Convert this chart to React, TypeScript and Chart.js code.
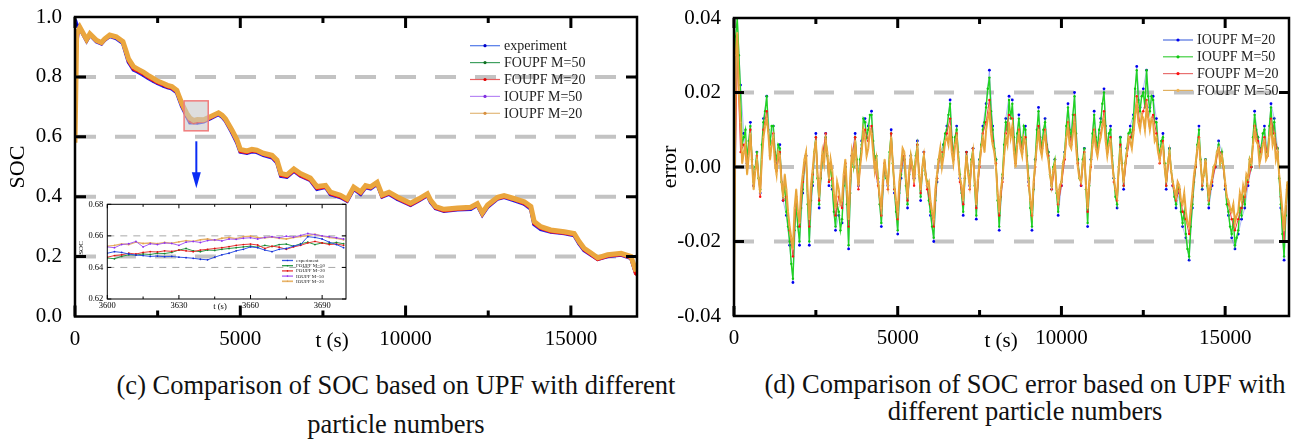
import React, { useEffect, useRef } from 'react';
import { Chart, registerables } from 'chart.js';
Chart.register(...registerables);

const SERIF = '"Liberation Serif", "Times New Roman", serif';

// ---------- (c) SOC chart ----------
const SOC_T = [
  0, 50, 150, 350, 450, 650, 800, 900, 1050, 1250,
  1450, 1550, 1620, 1770, 1900, 2070, 2200, 2370, 2500, 2680,
  2800, 2930, 3080, 3150, 3230, 3380, 3480, 3590, 3700, 3890,
  4090, 4340, 4450, 4550, 4750, 4900, 5000, 5200, 5350, 5500,
  5700, 5960, 6110, 6230, 6410, 6620, 6820, 7120, 7320, 7580,
  7730, 8030, 8230, 8430, 8640, 8790, 8940, 9140, 9290, 9500,
  9750, 10150, 10400, 10660, 10760, 10910, 11160, 11570, 11970, 12170,
  12320, 12480, 12780, 12980, 13280, 13590, 13790, 13890, 14090, 14390,
  14800, 15100, 15250, 15400, 15610, 15810, 16110, 16520, 16820, 16970,
];
const SOC_EXPERIMENT = [
  0.990, 0.975, 0.962, 0.921, 0.941, 0.918, 0.911, 0.924, 0.936, 0.929,
  0.913, 0.876, 0.850, 0.824, 0.817, 0.806, 0.797, 0.786, 0.779, 0.770,
  0.765, 0.761, 0.748, 0.727, 0.703, 0.669, 0.648, 0.648, 0.647, 0.651,
  0.661, 0.675, 0.667, 0.654, 0.614, 0.581, 0.550, 0.546, 0.551, 0.549,
  0.539, 0.531, 0.514, 0.469, 0.466, 0.486, 0.470, 0.455, 0.426, 0.432,
  0.408, 0.398, 0.386, 0.426, 0.409, 0.431, 0.427, 0.443, 0.400, 0.409,
  0.392, 0.372, 0.387, 0.405, 0.382, 0.361, 0.352, 0.357, 0.359, 0.372,
  0.340, 0.366, 0.393, 0.399, 0.388, 0.376, 0.359, 0.308, 0.292, 0.283,
  0.278, 0.271, 0.243, 0.221, 0.206, 0.192, 0.201, 0.206, 0.195, 0.143,
];
const SOC_FOUPF50 = [
  0.700, 0.930, 0.964, 0.923, 0.943, 0.921, 0.913, 0.926, 0.938, 0.932,
  0.916, 0.882, 0.857, 0.831, 0.823, 0.813, 0.803, 0.792, 0.784, 0.776,
  0.770, 0.766, 0.753, 0.733, 0.709, 0.675, 0.656, 0.648, 0.650, 0.654,
  0.664, 0.678, 0.670, 0.657, 0.619, 0.587, 0.555, 0.550, 0.555, 0.552,
  0.543, 0.535, 0.519, 0.475, 0.470, 0.490, 0.474, 0.459, 0.431, 0.435,
  0.412, 0.402, 0.389, 0.429, 0.413, 0.434, 0.431, 0.446, 0.403, 0.413,
  0.396, 0.375, 0.390, 0.408, 0.386, 0.364, 0.356, 0.360, 0.363, 0.375,
  0.344, 0.370, 0.396, 0.402, 0.392, 0.381, 0.365, 0.314, 0.298, 0.287,
  0.281, 0.275, 0.248, 0.226, 0.210, 0.194, 0.204, 0.209, 0.198, 0.146,
];
const SOC_FOUPF20 = [
  0.600, 0.950, 0.963, 0.922, 0.942, 0.920, 0.912, 0.925, 0.937, 0.931,
  0.915, 0.879, 0.853, 0.827, 0.820, 0.810, 0.800, 0.789, 0.781, 0.773,
  0.767, 0.763, 0.750, 0.730, 0.706, 0.672, 0.652, 0.647, 0.651, 0.653,
  0.663, 0.677, 0.669, 0.656, 0.617, 0.584, 0.552, 0.548, 0.553, 0.551,
  0.541, 0.533, 0.516, 0.472, 0.468, 0.488, 0.471, 0.456, 0.428, 0.433,
  0.410, 0.400, 0.387, 0.428, 0.411, 0.432, 0.429, 0.444, 0.401, 0.411,
  0.394, 0.373, 0.388, 0.406, 0.384, 0.362, 0.353, 0.358, 0.361, 0.373,
  0.341, 0.368, 0.394, 0.400, 0.390, 0.378, 0.362, 0.311, 0.295, 0.284,
  0.279, 0.273, 0.245, 0.223, 0.207, 0.191, 0.202, 0.207, 0.196, 0.140,
];
const SOC_IOUPF50 = [
  0.620, 0.900, 0.966, 0.926, 0.945, 0.923, 0.916, 0.928, 0.941, 0.935,
  0.919, 0.886, 0.861, 0.835, 0.827, 0.817, 0.807, 0.796, 0.787, 0.779,
  0.773, 0.769, 0.756, 0.736, 0.713, 0.679, 0.663, 0.654, 0.659, 0.658,
  0.668, 0.681, 0.673, 0.661, 0.623, 0.591, 0.559, 0.554, 0.559, 0.556,
  0.546, 0.539, 0.523, 0.479, 0.474, 0.494, 0.478, 0.463, 0.435, 0.439,
  0.416, 0.406, 0.393, 0.433, 0.417, 0.438, 0.434, 0.449, 0.407, 0.416,
  0.400, 0.379, 0.394, 0.411, 0.389, 0.368, 0.359, 0.363, 0.366, 0.378,
  0.347, 0.373, 0.399, 0.405, 0.395, 0.384, 0.368, 0.318, 0.301, 0.290,
  0.284, 0.278, 0.251, 0.229, 0.213, 0.197, 0.207, 0.212, 0.201, 0.152,
];
const SOC_IOUPF20 = [
  0.580, 0.940, 0.965, 0.925, 0.944, 0.922, 0.915, 0.927, 0.940, 0.934,
  0.918, 0.885, 0.860, 0.834, 0.826, 0.816, 0.806, 0.795, 0.786, 0.778,
  0.772, 0.768, 0.755, 0.735, 0.712, 0.678, 0.662, 0.655, 0.658, 0.657,
  0.667, 0.680, 0.672, 0.660, 0.622, 0.590, 0.558, 0.553, 0.558, 0.555,
  0.545, 0.538, 0.522, 0.478, 0.473, 0.493, 0.477, 0.462, 0.434, 0.438,
  0.415, 0.405, 0.392, 0.432, 0.416, 0.437, 0.433, 0.448, 0.406, 0.415,
  0.399, 0.378, 0.393, 0.410, 0.388, 0.367, 0.358, 0.362, 0.365, 0.377,
  0.346, 0.372, 0.398, 0.404, 0.394, 0.383, 0.367, 0.317, 0.300, 0.289,
  0.283, 0.277, 0.250, 0.228, 0.212, 0.196, 0.206, 0.211, 0.200, 0.150,
];
const SOC_Y_TICKS = [0, 0.2, 0.4, 0.6, 0.8, 1.0];
const SOC_GRID = [0.2, 0.4, 0.6, 0.8];
const T_TICKS = [0, 5000, 10000, 15000];
const T_MINOR = [2500, 7500, 12500];
// zoom window marker (data units) and arrow
const ZOOM_T = [3300, 4030];
const ZOOM_SOC = [0.62, 0.72];
const ARROW_T = 3670;
const ARROW_SOC = [0.585, 0.428];

// ---------- inset (3600 s .. 3700 s) ----------
const INSET_T = [
  3600, 3603, 3606, 3609, 3612, 3615, 3618, 3621, 3624, 3627,
  3630, 3633, 3636, 3639, 3642, 3645, 3648, 3651, 3654, 3657,
  3660, 3663, 3666, 3669, 3672, 3675, 3678, 3681, 3684, 3687,
  3690, 3693, 3696, 3699,
];
const INSET_EXPERIMENT = [
  0.6490, 0.6500, 0.6495, 0.6485, 0.6478, 0.6475, 0.6470, 0.6472, 0.6468, 0.6470,
  0.6465, 0.6462, 0.6458, 0.6452, 0.6448, 0.6465, 0.6480, 0.6490, 0.6505, 0.6515,
  0.6530, 0.6525, 0.6510, 0.6500, 0.6515, 0.6520, 0.6535, 0.6545, 0.6595, 0.6590,
  0.6580, 0.6560, 0.6545, 0.6525,
];
const INSET_FOUPF50 = [
  0.6460, 0.6455, 0.6470, 0.6480, 0.6478, 0.6485, 0.6482, 0.6490, 0.6488, 0.6495,
  0.6510, 0.6520, 0.6505, 0.6500, 0.6510, 0.6508, 0.6515, 0.6520, 0.6525, 0.6530,
  0.6535, 0.6528, 0.6540, 0.6532, 0.6545, 0.6548, 0.6535, 0.6550, 0.6560, 0.6545,
  0.6555, 0.6552, 0.6558, 0.6550,
];
const INSET_FOUPF20 = [
  0.6465, 0.6475, 0.6480, 0.6490, 0.6485, 0.6495, 0.6500, 0.6498, 0.6505, 0.6502,
  0.6510, 0.6505, 0.6500, 0.6510, 0.6515, 0.6520, 0.6525, 0.6532, 0.6540, 0.6545,
  0.6548, 0.6542, 0.6520, 0.6535, 0.6528, 0.6515, 0.6530, 0.6540, 0.6555, 0.6565,
  0.6555, 0.6545, 0.6548, 0.6540,
];
const INSET_IOUPF50 = [
  0.6530, 0.6525, 0.6545, 0.6550, 0.6565, 0.6530, 0.6550, 0.6545, 0.6555, 0.6552,
  0.6540, 0.6560, 0.6565, 0.6558, 0.6570, 0.6575, 0.6568, 0.6580, 0.6578, 0.6585,
  0.6588, 0.6580, 0.6590, 0.6595, 0.6588, 0.6598, 0.6592, 0.6603, 0.6615, 0.6608,
  0.6600, 0.6595, 0.6588, 0.6580,
];
const INSET_IOUPF20 = [
  0.6535, 0.6540, 0.6548, 0.6545, 0.6560, 0.6552, 0.6555, 0.6550, 0.6558, 0.6553,
  0.6562, 0.6570, 0.6565, 0.6575, 0.6580, 0.6572, 0.6585, 0.6590, 0.6582, 0.6595,
  0.6598, 0.6590, 0.6588, 0.6593, 0.6585, 0.6580, 0.6590, 0.6596, 0.6602, 0.6610,
  0.6598, 0.6590, 0.6585, 0.6575,
];
const INSET_X_TICKS = [3600, 3630, 3660, 3690];
const INSET_X_MINOR = [3615, 3645, 3675];
const INSET_Y_TICKS = [0.62, 0.64, 0.66, 0.68];
const INSET_GRID = [0.64, 0.66];

// ---------- (d) error chart ----------
// coarse sampling (100 s) for the IOUPF M=20 / FOUPF M=20 curves
const ERR_T = [
  0, 100, 200, 300, 400, 500, 600, 700, 800, 900,
  1000, 1100, 1200, 1300, 1400, 1500, 1600, 1700, 1800, 1900,
  2000, 2100, 2200, 2300, 2400, 2500, 2600, 2700, 2800, 2900,
  3000, 3100, 3200, 3300, 3400, 3500, 3600, 3700, 3800, 3900,
  4000, 4100, 4200, 4300, 4400, 4500, 4600, 4700, 4800, 4900,
  5000, 5100, 5200, 5300, 5400, 5500, 5600, 5700, 5800, 5900,
  6000, 6100, 6200, 6300, 6400, 6500, 6600, 6700, 6800, 6900,
  7000, 7100, 7200, 7300, 7400, 7500, 7600, 7700, 7800, 7900,
  8000, 8100, 8200, 8300, 8400, 8500, 8600, 8700, 8800, 8900,
  9000, 9100, 9200, 9300, 9400, 9500, 9600, 9700, 9800, 9900,
  10000, 10100, 10200, 10300, 10400, 10500, 10600, 10700, 10800, 10900,
  11000, 11100, 11200, 11300, 11400, 11500, 11600, 11700, 11800, 11900,
  12000, 12100, 12200, 12300, 12400, 12500, 12600, 12700, 12800, 12900,
  13000, 13100, 13200, 13300, 13400, 13500, 13600, 13700, 13800, 13900,
  14000, 14100, 14200, 14300, 14400, 14500, 14600, 14700, 14800, 14900,
  15000, 15100, 15200, 15300, 15400, 15500, 15600, 15700, 15800, 15900,
  16000, 16100, 16200, 16300, 16400, 16500, 16600, 16700, 16800, 16900,
];
const ERR_IOUPF20 = [
  -0.040, 0.040, 0.022, 0.009, 0.001, 0.012, -0.005, 0.004, -0.007, 0.013,
  0.019, 0.007, 0.011, 0.001, 0.006, -0.009, -0.013, -0.021, -0.031, -0.011,
  -0.021, -0.007, 0.003, -0.021, -0.005, 0.009, -0.011, 0.002, 0.009, -0.005,
  -0.006, -0.017, -0.013, -0.015, 0.000, -0.022, 0.003, 0.009, -0.005, 0.007,
  0.013, 0.011, 0.015, 0.002, -0.004, -0.016, 0.000, -0.005, 0.010, -0.007,
  -0.018, -0.003, 0.002, -0.011, 0.003, -0.003, 0.007, -0.009, 0.004, -0.005,
  -0.013, -0.020, -0.004, 0.004, 0.006, 0.011, 0.018, 0.003, 0.011, -0.003,
  -0.013, 0.004, -0.005, 0.005, -0.014, 0.002, 0.011, 0.017, 0.026, 0.011,
  0.002, -0.017, -0.003, 0.013, 0.019, 0.018, 0.002, 0.014, 0.005, 0.011,
  -0.004, -0.017, 0.002, 0.016, 0.005, 0.013, 0.004, -0.006, 0.002, -0.013,
  -0.005, 0.004, 0.017, 0.008, 0.020, 0.002, -0.005, 0.005, -0.016, 0.002,
  0.015, 0.005, 0.013, 0.021, 0.005, 0.011, -0.003, -0.011, 0.008, -0.006,
  0.005, 0.011, 0.014, 0.027, 0.016, 0.021, 0.026, 0.016, 0.019, 0.013,
  0.003, 0.009, -0.006, 0.005, -0.005, -0.011, -0.007, -0.016, -0.019, -0.025,
  -0.011, 0.000, 0.011, -0.006, 0.002, -0.011, -0.005, 0.000, 0.007, 0.004,
  -0.006, -0.013, -0.019, -0.022, -0.018, -0.014, -0.011, -0.005, 0.000, 0.015,
  0.008, 0.005, 0.011, 0.004, 0.017, 0.013, 0.005, -0.011, -0.025, -0.006,
];
const ERR_FOUPF20 = [
  -0.020, 0.030, 0.004, 0.006, 0.000, 0.010, -0.005, 0.003, -0.008, 0.010,
  0.015, 0.003, 0.009, -0.001, 0.004, -0.009, -0.008, -0.017, -0.024, -0.008,
  -0.016, -0.004, 0.003, -0.016, -0.002, 0.008, -0.009, 0.003, 0.009, -0.004,
  -0.003, -0.013, -0.008, -0.011, 0.001, -0.016, 0.003, 0.008, -0.006, 0.005,
  0.010, 0.007, 0.011, 0.000, -0.005, -0.013, 0.001, -0.006, 0.009, -0.006,
  -0.014, -0.001, 0.003, -0.009, 0.002, -0.005, 0.006, -0.007, 0.004, -0.006,
  -0.010, -0.016, -0.003, 0.004, 0.004, 0.009, 0.013, 0.002, 0.009, -0.004,
  -0.010, 0.004, -0.006, 0.005, -0.011, 0.000, 0.009, 0.012, 0.018, 0.007,
  0.001, -0.013, -0.004, 0.009, 0.014, 0.013, 0.001, 0.010, 0.004, 0.008,
  -0.005, -0.013, 0.000, 0.011, 0.004, 0.010, 0.003, -0.006, 0.000, -0.010,
  -0.005, 0.002, 0.012, 0.006, 0.014, 0.001, -0.005, 0.004, -0.012, 0.000,
  0.010, 0.004, 0.009, 0.015, 0.004, 0.008, -0.004, -0.009, 0.006, -0.005,
  0.003, 0.008, 0.010, 0.019, 0.011, 0.015, 0.018, 0.011, 0.014, 0.009,
  0.001, 0.007, -0.005, 0.003, -0.005, -0.009, -0.006, -0.012, -0.014, -0.018,
  -0.008, 0.000, 0.008, -0.005, 0.001, -0.009, -0.004, 0.000, 0.005, 0.003,
  -0.005, -0.010, -0.014, -0.017, -0.014, -0.011, -0.008, -0.004, 0.000, 0.011,
  0.007, 0.004, 0.008, 0.003, 0.013, 0.009, 0.004, -0.008, -0.020, -0.005,
];
// fine sampling (50 s) for the IOUPF M=50 / FOUPF M=50 curves
const ERR_T_FINE = [
  0, 50, 100, 150, 200, 250, 300, 350, 400, 450, 500, 550, 600, 650, 700, 750, 800, 850, 900, 950,
  1000, 1050, 1100, 1150, 1200, 1250, 1300, 1350, 1400, 1450, 1500, 1550, 1600, 1650, 1700, 1750, 1800, 1850, 1900, 1950,
  2000, 2050, 2100, 2150, 2200, 2250, 2300, 2350, 2400, 2450, 2500, 2550, 2600, 2650, 2700, 2750, 2800, 2850, 2900, 2950,
  3000, 3050, 3100, 3150, 3200, 3250, 3300, 3350, 3400, 3450, 3500, 3550, 3600, 3650, 3700, 3750, 3800, 3850, 3900, 3950,
  4000, 4050, 4100, 4150, 4200, 4250, 4300, 4350, 4400, 4450, 4500, 4550, 4600, 4650, 4700, 4750, 4800, 4850, 4900, 4950,
  5000, 5050, 5100, 5150, 5200, 5250, 5300, 5350, 5400, 5450, 5500, 5550, 5600, 5650, 5700, 5750, 5800, 5850, 5900, 5950,
  6000, 6050, 6100, 6150, 6200, 6250, 6300, 6350, 6400, 6450, 6500, 6550, 6600, 6650, 6700, 6750, 6800, 6850, 6900, 6950,
  7000, 7050, 7100, 7150, 7200, 7250, 7300, 7350, 7400, 7450, 7500, 7550, 7600, 7650, 7700, 7750, 7800, 7850, 7900, 7950,
  8000, 8050, 8100, 8150, 8200, 8250, 8300, 8350, 8400, 8450, 8500, 8550, 8600, 8650, 8700, 8750, 8800, 8850, 8900, 8950,
  9000, 9050, 9100, 9150, 9200, 9250, 9300, 9350, 9400, 9450, 9500, 9550, 9600, 9650, 9700, 9750, 9800, 9850, 9900, 9950,
  10000, 10050, 10100, 10150, 10200, 10250, 10300, 10350, 10400, 10450, 10500, 10550, 10600, 10650, 10700, 10750, 10800, 10850, 10900, 10950,
  11000, 11050, 11100, 11150, 11200, 11250, 11300, 11350, 11400, 11450, 11500, 11550, 11600, 11650, 11700, 11750, 11800, 11850, 11900, 11950,
  12000, 12050, 12100, 12150, 12200, 12250, 12300, 12350, 12400, 12450, 12500, 12550, 12600, 12650, 12700, 12750, 12800, 12850, 12900, 12950,
  13000, 13050, 13100, 13150, 13200, 13250, 13300, 13350, 13400, 13450, 13500, 13550, 13600, 13650, 13700, 13750, 13800, 13850, 13900, 13950,
  14000, 14050, 14100, 14150, 14200, 14250, 14300, 14350, 14400, 14450, 14500, 14550, 14600, 14650, 14700, 14750, 14800, 14850, 14900, 14950,
  15000, 15050, 15100, 15150, 15200, 15250, 15300, 15350, 15400, 15450, 15500, 15550, 15600, 15650, 15700, 15750, 15800, 15850, 15900, 15950,
  16000, 16050, 16100, 16150, 16200, 16250, 16300, 16350, 16400, 16450, 16500, 16550, 16600, 16650, 16700, 16750, 16800, 16850, 16900,
];
const ERR_IOUPF50 = [
  -0.038, 0.035, 0.040, 0.030, 0.020, 0.006, 0.008, 0.010, 0.002, 0.007, 0.011, 0.002, -0.004, 0.000, 0.004, -0.003, -0.006, 0.006, 0.012, 0.015,
  0.019, 0.010, 0.006, 0.011, 0.011, 0.004, 0.002, 0.006, 0.005, -0.004, -0.008, -0.005, -0.012, -0.016, -0.020, -0.026, -0.030, -0.017, -0.010, -0.016,
  -0.020, -0.011, -0.006, 0.001, 0.003, -0.010, -0.020, -0.009, -0.004, 0.004, 0.008, -0.003, -0.010, -0.003, 0.002, 0.004, 0.008, 0.003, -0.004, 0.001,
  -0.005, -0.012, -0.016, -0.010, -0.012, -0.017, -0.014, -0.005, 0.000, -0.010, -0.021, -0.007, 0.003, 0.000, 0.008, 0.002, -0.004, 0.002, 0.006, 0.013,
  0.012, 0.008, 0.010, 0.014, 0.014, 0.007, 0.002, 0.003, -0.003, -0.010, -0.015, -0.005, 0.000, -0.003, -0.004, 0.004, 0.009, 0.001, -0.006, -0.012,
  -0.017, -0.007, -0.002, 0.003, 0.002, -0.005, -0.010, -0.002, 0.003, 0.000, -0.002, 0.003, 0.006, -0.002, -0.008, -0.001, 0.004, -0.002, -0.004, -0.009,
  -0.012, -0.016, -0.019, -0.009, -0.003, 0.002, 0.004, 0.000, 0.006, 0.009, 0.010, 0.014, 0.017, 0.008, 0.003, 0.008, 0.010, 0.004, -0.002, -0.007,
  -0.012, -0.003, 0.004, -0.001, -0.004, 0.002, 0.005, -0.005, -0.013, -0.004, 0.002, 0.006, 0.010, 0.012, 0.016, 0.021, 0.024, 0.015, 0.010, 0.005,
  0.002, -0.009, -0.016, -0.008, -0.002, 0.006, 0.012, 0.010, 0.018, 0.013, 0.017, 0.008, 0.002, 0.009, 0.013, 0.008, 0.005, 0.011, 0.010, 0.003,
  -0.003, -0.011, -0.016, -0.006, 0.002, 0.010, 0.015, 0.008, 0.005, 0.010, 0.012, 0.006, 0.004, -0.002, -0.005, 0.000, 0.002, -0.007, -0.012, -0.006,
  -0.004, 0.001, 0.004, 0.011, 0.016, 0.010, 0.008, 0.014, 0.019, 0.009, 0.002, -0.003, -0.004, 0.002, 0.005, -0.006, -0.015, -0.005, 0.002, 0.009,
  0.014, 0.008, 0.005, 0.010, 0.012, 0.017, 0.020, 0.011, 0.005, 0.009, 0.010, 0.003, -0.003, -0.008, -0.010, 0.000, 0.008, 0.001, -0.005, 0.001,
  0.005, 0.009, 0.010, 0.008, 0.013, 0.021, 0.026, 0.018, 0.015, 0.019, 0.020, 0.016, 0.026, 0.019, 0.015, 0.019, 0.018, 0.012, 0.012, 0.006,
  0.003, 0.007, 0.008, 0.001, -0.005, 0.001, 0.005, -0.001, -0.004, -0.008, -0.010, -0.005, -0.006, -0.012, -0.015, -0.012, -0.018, -0.022, -0.024, -0.016,
  -0.010, -0.004, 0.000, 0.006, 0.010, 0.002, -0.005, -0.002, 0.002, -0.005, -0.010, -0.006, -0.004, 0.000, 0.000, 0.004, 0.006, 0.001, 0.004, 0.000,
  -0.005, -0.010, -0.012, -0.016, -0.018, -0.014, -0.021, -0.019, -0.017, -0.011, -0.013, -0.008, -0.010, -0.003, -0.004, 0.002, 0.000, 0.008, 0.014, 0.010,
  0.008, 0.003, 0.005, 0.009, 0.010, 0.004, 0.004, 0.011, 0.016, 0.009, 0.012, 0.006, 0.005, -0.003, -0.010, -0.018, -0.024, -0.013, -0.005,
];
const ERR_FOUPF50 = [
  -0.038, 0.030, 0.036, 0.020, 0.012, 0.001, 0.004, 0.006, -0.002, 0.003, 0.009, 0.001, -0.006, -0.001, 0.002, -0.003, -0.007, 0.002, 0.008, 0.011,
  0.013, 0.009, 0.002, 0.006, 0.008, 0.001, -0.002, 0.004, 0.003, -0.004, -0.008, -0.002, -0.006, -0.012, -0.016, -0.019, -0.022, -0.011, -0.006, -0.012,
  -0.015, -0.006, -0.002, 0.002, 0.004, -0.007, -0.014, -0.005, -0.001, 0.004, 0.007, -0.002, -0.008, -0.001, 0.004, 0.001, 0.007, 0.004, -0.003, 0.002,
  -0.001, -0.007, -0.011, -0.004, -0.006, -0.010, -0.009, -0.002, 0.002, -0.006, -0.014, -0.003, 0.004, 0.001, 0.007, 0.000, -0.005, 0.000, 0.004, 0.010,
  0.008, 0.003, 0.005, 0.010, 0.009, 0.004, -0.001, 0.002, -0.004, -0.008, -0.011, -0.003, 0.002, -0.002, -0.005, 0.002, 0.008, 0.001, -0.005, -0.009,
  -0.012, -0.004, 0.000, 0.005, 0.004, -0.003, -0.008, -0.001, 0.003, 0.000, -0.004, 0.002, 0.005, -0.002, -0.006, 0.000, 0.003, -0.002, -0.005, -0.004,
  -0.009, -0.012, -0.014, -0.006, -0.002, 0.002, 0.005, 0.000, 0.003, 0.007, 0.008, 0.006, 0.011, 0.004, 0.001, 0.006, 0.008, 0.002, -0.003, -0.005,
  -0.009, -0.002, 0.003, -0.002, -0.005, 0.001, 0.004, -0.004, -0.010, -0.003, 0.001, 0.005, 0.008, 0.004, 0.010, 0.013, 0.015, 0.009, 0.006, 0.004,
  0.000, -0.007, -0.012, -0.006, -0.003, 0.003, 0.008, 0.006, 0.012, 0.008, 0.011, 0.004, 0.000, 0.006, 0.009, 0.005, 0.003, 0.008, 0.007, 0.001,
  -0.004, -0.009, -0.012, -0.004, 0.001, 0.006, 0.010, 0.005, 0.003, 0.007, 0.009, 0.004, 0.002, -0.002, -0.005, -0.001, 0.001, -0.006, -0.009, -0.005,
  -0.004, 0.001, 0.003, 0.008, 0.011, 0.006, 0.005, 0.009, 0.012, 0.005, 0.000, -0.003, -0.004, 0.001, 0.003, -0.005, -0.011, -0.004, 0.001, 0.006,
  0.009, 0.005, 0.003, 0.006, 0.008, 0.011, 0.013, 0.007, 0.003, 0.006, 0.007, 0.001, -0.003, -0.006, -0.008, 0.000, 0.005, 0.000, -0.004, 0.001,
  0.004, 0.008, 0.007, 0.005, 0.009, 0.014, 0.017, 0.012, 0.010, 0.014, 0.013, 0.010, 0.016, 0.013, 0.010, 0.013, 0.012, 0.007, 0.008, 0.004,
  0.002, 0.005, 0.006, 0.000, -0.004, 0.001, 0.004, -0.001, -0.004, -0.006, -0.008, -0.004, -0.005, -0.009, -0.010, -0.007, -0.012, -0.015, -0.016, -0.011,
  -0.007, -0.002, 0.001, 0.005, 0.007, 0.001, -0.004, -0.002, 0.002, -0.004, -0.008, -0.005, -0.003, 0.000, 0.001, 0.004, 0.005, 0.001, 0.003, 0.000,
  -0.004, -0.008, -0.009, -0.011, -0.012, -0.010, -0.015, -0.013, -0.012, -0.007, -0.009, -0.005, -0.007, -0.002, -0.003, 0.002, 0.001, 0.006, 0.010, 0.007,
  0.006, 0.001, 0.003, 0.006, 0.007, 0.002, 0.003, 0.008, 0.011, 0.006, 0.008, 0.002, 0.004, -0.002, -0.007, -0.012, -0.017, -0.010, -0.004,
];
const ERR_Y_TICKS = [-0.04, -0.02, 0, 0.02, 0.04];
const ERR_GRID = [-0.02, 0, 0.02];

// ---------- helpers ----------
const xy = (xs: number[], ys: number[]) => xs.map((x, i) => ({ x, y: ys[i] }));

type LegendItem = { label: string; line: string; marker: string; lw: number };

function drawLegend(ctx: CanvasRenderingContext2D, items: LegendItem[], x0: number, y0: number, dy: number,
  lineLen: number, gap: number, fontPx: number, markerR: number) {
  ctx.save();
  ctx.setLineDash([]);
  ctx.font = `${fontPx}px ${SERIF}`;
  ctx.textBaseline = 'middle';
  ctx.textAlign = 'left';
  items.forEach((it, i) => {
    const y = y0 + i * dy;
    ctx.strokeStyle = it.line;
    ctx.lineWidth = it.lw;
    ctx.beginPath();
    ctx.moveTo(x0, y);
    ctx.lineTo(x0 + lineLen, y);
    ctx.stroke();
    ctx.fillStyle = it.marker;
    ctx.beginPath();
    ctx.arc(x0 + lineLen / 2, y, markerR, 0, Math.PI * 2);
    ctx.fill();
    ctx.fillStyle = '#222';
    ctx.fillText(it.label, x0 + lineLen + gap, y + fontPx * 0.05);
  });
  ctx.restore();
}

type FrameCfg = {
  grid: number[]; gridDash: number[]; gridWidth: number; gridColor: string;
  xMajor: number[]; xMinor: number[]; yMajor: number[];
  majorLen: number; minorLen: number; tickWidth: number; frameWidth: number;
  extra?: (chart: any) => void;
};

function framePlugin(id: string, cfg: FrameCfg) {
  return {
    id,
    beforeDatasetsDraw(chart: any) {
      const { ctx, chartArea: a } = chart;
      const ys = chart.scales.y;
      ctx.save();
      ctx.strokeStyle = cfg.gridColor;
      ctx.lineWidth = cfg.gridWidth;
      ctx.setLineDash(cfg.gridDash);
      for (const v of cfg.grid) {
        const py = ys.getPixelForValue(v);
        ctx.beginPath();
        ctx.moveTo(a.left, py);
        ctx.lineTo(a.right, py);
        ctx.stroke();
      }
      ctx.restore();
    },
    afterDatasetsDraw(chart: any) {
      const { ctx, chartArea: a } = chart;
      const xs = chart.scales.x;
      const ys = chart.scales.y;
      ctx.save();
      ctx.setLineDash([]);
      ctx.strokeStyle = '#000';
      ctx.lineCap = 'butt';
      ctx.lineWidth = cfg.tickWidth;
      const vt = (v: number, len: number) => {
        const px = xs.getPixelForValue(v);
        ctx.beginPath();
        ctx.moveTo(px, a.bottom); ctx.lineTo(px, a.bottom - len);
        ctx.moveTo(px, a.top); ctx.lineTo(px, a.top + len);
        ctx.stroke();
      };
      cfg.xMajor.forEach((v) => vt(v, cfg.majorLen));
      cfg.xMinor.forEach((v) => vt(v, cfg.minorLen));
      cfg.yMajor.forEach((v) => {
        const py = ys.getPixelForValue(v);
        ctx.beginPath();
        ctx.moveTo(a.left, py); ctx.lineTo(a.left + cfg.majorLen, py);
        ctx.moveTo(a.right, py); ctx.lineTo(a.right - cfg.majorLen, py);
        ctx.stroke();
      });
      ctx.lineWidth = cfg.frameWidth;
      ctx.strokeRect(a.left, a.top, a.right - a.left, a.bottom - a.top);
      ctx.restore();
      if (cfg.extra) cfg.extra(chart);
    },
  };
}

function rotatedText(ctx: CanvasRenderingContext2D, text: string, cx: number, cy: number, fontPx: number) {
  ctx.save();
  ctx.font = `${fontPx}px ${SERIF}`;
  ctx.fillStyle = '#000';
  ctx.translate(cx, cy);
  ctx.rotate(-Math.PI / 2);
  ctx.textAlign = 'center';
  ctx.textBaseline = 'middle';
  ctx.fillText(text, 0, 0);
  ctx.restore();
}

function plainText(ctx: CanvasRenderingContext2D, text: string, cx: number, baseline: number, fontPx: number) {
  ctx.save();
  ctx.font = `${fontPx}px ${SERIF}`;
  ctx.fillStyle = '#000';
  ctx.textAlign = 'center';
  ctx.textBaseline = 'alphabetic';
  ctx.fillText(text, cx, baseline);
  ctx.restore();
}

function axes(xMin: number, xMax: number, xTicks: number[], yMin: number, yMax: number, yTicks: number[],
  yDigits: number, fontPx: number, xHeight: number, yWidth: number, xPad: number, yPad: number) {
  return {
    x: {
      type: 'linear', min: xMin, max: xMax,
      afterBuildTicks: (s: any) => { s.ticks = xTicks.map((value) => ({ value })); },
      ticks: { color: '#000', font: { family: SERIF, size: fontPx }, padding: xPad, maxRotation: 0, autoSkip: false,
        callback: (v: any) => String(v) },
      grid: { display: false, drawTicks: false },
      border: { display: false },
      afterFit: (s: any) => { s.height = xHeight; s.paddingLeft = 0; s.paddingRight = 0; },
    },
    y: {
      type: 'linear', min: yMin, max: yMax,
      afterBuildTicks: (s: any) => { s.ticks = yTicks.map((value) => ({ value })); },
      ticks: { color: '#000', font: { family: SERIF, size: fontPx }, padding: yPad, autoSkip: false,
        callback: (v: any) => (Math.abs(v) < 1e-12 ? 0 : Number(v)).toFixed(yDigits) },
      grid: { display: false, drawTicks: false },
      border: { display: false },
      afterFit: (s: any) => { s.width = yWidth; s.paddingTop = 0; s.paddingBottom = 0; },
    },
  };
}

const baseOpts = {
  responsive: false,
  animation: false,
  events: [],
  plugins: { legend: { display: false }, tooltip: { enabled: false } },
};

export default function App() {
  const mainRef = useRef<HTMLCanvasElement>(null);
  const insetRef = useRef<HTMLCanvasElement>(null);
  const errRef = useRef<HTMLCanvasElement>(null);

  useEffect(() => {
    // ----- main SOC chart -----
    const mainDatasets = [
      { label: 'experiment', data: xy(SOC_T, SOC_EXPERIMENT), borderColor: '#2222f2', borderWidth: 4,
        pointRadius: 1.5, pointBackgroundColor: '#0000c8', pointBorderWidth: 0, order: 3, legendLine: '#5078e8' },
      { label: 'FOUPF M=50', data: xy(SOC_T, SOC_FOUPF50), borderColor: '#1a9a3a', borderWidth: 2,
        pointRadius: 0, pointBackgroundColor: '#107020', order: 5, legendLine: '#40a060' },
      { label: 'FOUPF M=20', data: xy(SOC_T, SOC_FOUPF20), borderColor: '#ff1414', borderWidth: 3.5,
        pointRadius: 1.2, pointBackgroundColor: '#e00000', pointBorderWidth: 0, order: 2, legendLine: '#e86060' },
      { label: 'IOUPF M=50', data: xy(SOC_T, SOC_IOUPF50), borderColor: '#9a40f0', borderWidth: 2,
        pointRadius: 0, pointBackgroundColor: '#8030e0', order: 4, legendLine: '#b888f4' },
      { label: 'IOUPF M=20', data: xy(SOC_T, SOC_IOUPF20), borderColor: '#eaa63e', borderWidth: 5,
        pointRadius: 0, pointBackgroundColor: '#d89040', order: 1, legendLine: '#e2b87a' },
    ];
    const mainChart = new Chart(mainRef.current as HTMLCanvasElement, {
      type: 'line',
      data: { datasets: mainDatasets.map((d) => ({ ...d, tension: 0, fill: false })) as any },
      options: {
        ...baseOpts,
        layout: { padding: { top: 17, right: 13, left: 0, bottom: 0 } },
        scales: axes(0, 17000, T_TICKS, 0, 1, SOC_Y_TICKS, 1, 21, 43.5, 75, 10, 13) as any,
      } as any,
      plugins: [framePlugin('mainFrame', {
        grid: SOC_GRID, gridDash: [21, 19], gridWidth: 4, gridColor: '#c3c3c3',
        xMajor: T_TICKS, xMinor: T_MINOR, yMajor: SOC_GRID,
        majorLen: 11, minorLen: 6, tickWidth: 3, frameWidth: 2.5,
        extra: (chart: any) => {
          const { ctx, chartArea: a } = chart;
          const xs = chart.scales.x; const ys = chart.scales.y;
          // zoom window
          const bx0 = xs.getPixelForValue(ZOOM_T[0]); const bx1 = xs.getPixelForValue(ZOOM_T[1]);
          const by0 = ys.getPixelForValue(ZOOM_SOC[1]); const by1 = ys.getPixelForValue(ZOOM_SOC[0]);
          ctx.save();
          ctx.fillStyle = 'rgba(200,200,200,0.6)';
          ctx.fillRect(bx0, by0, bx1 - bx0, by1 - by0);
          ctx.strokeStyle = '#f07c7c'; ctx.lineWidth = 1.5;
          ctx.strokeRect(bx0, by0, bx1 - bx0, by1 - by0);
          // arrow
          const ax = xs.getPixelForValue(ARROW_T);
          const ay0 = ys.getPixelForValue(ARROW_SOC[0]); const ay1 = ys.getPixelForValue(ARROW_SOC[1]);
          ctx.strokeStyle = '#0a2cf5'; ctx.fillStyle = '#0a2cf5'; ctx.lineWidth = 2;
          ctx.beginPath(); ctx.moveTo(ax, ay0); ctx.lineTo(ax, ay1 - 14); ctx.stroke();
          ctx.beginPath(); ctx.moveTo(ax - 4.5, ay1 - 16); ctx.lineTo(ax + 4.5, ay1 - 16); ctx.lineTo(ax, ay1); ctx.closePath(); ctx.fill();
          ctx.restore();
          // legend
          const items = chart.data.datasets.map((d: any) => ({ label: d.label, line: d.legendLine, marker: d.pointBackgroundColor, lw: 1.2 }));
          drawLegend(ctx, items, 470, 45.7, 16.9, 30, 4, 14, 1.6);
          // titles
          rotatedText(ctx, 'SOC', 18, 167, 22);
          plainText(ctx, 't (s)', a.left + 257, 347, 21);
        },
      }) as any],
    });

    // ----- inset -----
    const insetDatasets = [
      { label: 'experiment', data: xy(INSET_T, INSET_EXPERIMENT), borderColor: '#3358e6', pointBackgroundColor: '#1a2ad0', order: 1, borderWidth: 1 },
      { label: 'FOUPF M=50', data: xy(INSET_T, INSET_FOUPF50), borderColor: '#2a9a48', pointBackgroundColor: '#158030', order: 4, borderWidth: 1 },
      { label: 'FOUPF M=20', data: xy(INSET_T, INSET_FOUPF20), borderColor: '#e83838', pointBackgroundColor: '#d81010', order: 2, borderWidth: 1 },
      { label: 'IOUPF M=50', data: xy(INSET_T, INSET_IOUPF50), borderColor: '#a860f4', pointBackgroundColor: '#8a30f0', order: 3, borderWidth: 1 },
      { label: 'IOUPF M=20', data: xy(INSET_T, INSET_IOUPF20), borderColor: '#e8b46a', pointBackgroundColor: '#e0a050', order: 5, borderWidth: 1.4 },
    ];
    const insetChart = new Chart(insetRef.current as HTMLCanvasElement, {
      type: 'line',
      data: { datasets: insetDatasets.map((d) => ({ ...d, tension: 0, fill: false, pointRadius: 0.9, pointBorderWidth: 0 })) as any },
      options: {
        ...baseOpts,
        layout: { padding: { top: 9.3, right: 9, left: 0, bottom: 0 } },
        scales: axes(3600, 3700, INSET_X_TICKS, 0.62, 0.68, INSET_Y_TICKS, 2, 8.5, 16, 47.3, 1.5, 4) as any,
      } as any,
      plugins: [framePlugin('insetFrame', {
        grid: INSET_GRID, gridDash: [7, 6], gridWidth: 1, gridColor: '#a8a8a8',
        xMajor: INSET_X_TICKS, xMinor: INSET_X_MINOR, yMajor: INSET_Y_TICKS,
        majorLen: 4, minorLen: 2.5, tickWidth: 1, frameWidth: 1,
        extra: (chart: any) => {
          const { ctx, chartArea: a } = chart;
          const items = chart.data.datasets.map((d: any) => ({ label: d.label, line: d.borderColor, marker: d.pointBackgroundColor, lw: d.borderWidth + 0.3 }));
          drawLegend(ctx, items, 222, 65.5, 5.2, 11, 3, 5, 0.8);
          rotatedText(ctx, 'SOC', 21, 53, 7);
          plainText(ctx, 't (s)', a.left + 112.7, 114, 8.5);
        },
      }) as any],
    });

    // ----- error chart -----
    const errDatasets = [
      { label: 'IOUPF M=20', data: xy(ERR_T, ERR_IOUPF20), borderColor: 'rgba(48,80,232,0.55)', borderWidth: 0.7,
        pointRadius: 1.4, pointBackgroundColor: '#0000f0', order: 4, legendLine: '#5070e0', legendMarker: '#0000f0' },
      { label: 'IOUPF M=50', data: xy(ERR_T_FINE, ERR_IOUPF50), borderColor: '#22d422', borderWidth: 1.4,
        pointRadius: 1.2, pointBackgroundColor: '#10c810', order: 3, legendLine: '#40d040', legendMarker: '#10c810' },
      { label: 'FOUPF M=20', data: xy(ERR_T, ERR_FOUPF20), borderColor: '#f04040', borderWidth: 1,
        pointRadius: 1.2, pointBackgroundColor: '#ff1010', order: 2, legendLine: '#e87070', legendMarker: '#ff1010' },
      { label: 'FOUPF M=50', data: xy(ERR_T_FINE, ERR_FOUPF50), borderColor: '#e8a53a', borderWidth: 2,
        pointRadius: 0.9, pointBackgroundColor: '#f0b454', order: 1, legendLine: '#e0b060', legendMarker: '#f0b454' },
    ];
    const errChart = new Chart(errRef.current as HTMLCanvasElement, {
      type: 'line',
      data: { datasets: errDatasets.map((d) => ({ ...d, tension: 0, fill: false, pointBorderWidth: 0 })) as any },
      options: {
        ...baseOpts,
        layout: { padding: { top: 18, right: 10, left: 0, bottom: 0 } },
        scales: axes(0, 16950, T_TICKS, -0.04, 0.04, ERR_Y_TICKS, 2, 21, 44, 84, 10, 13) as any,
      } as any,
      plugins: [framePlugin('errFrame', {
        grid: ERR_GRID, gridDash: [20, 20], gridWidth: 4, gridColor: '#c3c3c3',
        xMajor: T_TICKS, xMinor: T_MINOR, yMajor: ERR_GRID,
        majorLen: 10, minorLen: 6, tickWidth: 3, frameWidth: 2.5,
        extra: (chart: any) => {
          const { ctx, chartArea: a } = chart;
          const items = chart.data.datasets.map((d: any) => ({ label: d.label, line: d.legendLine, marker: d.legendMarker, lw: 1.2 }));
          drawLegend(ctx, items, 513, 40, 16.8, 30, 4, 14, 1.6);
          rotatedText(ctx, 'error', 20, 167, 22);
          plainText(ctx, 't (s)', a.left + 267, 347, 21);
        },
      }) as any],
    });

    return () => { mainChart.destroy(); insetChart.destroy(); errChart.destroy(); };
  }, []);

  const cap: React.CSSProperties = {
    position: 'absolute', fontFamily: SERIF, fontSize: 26.5, lineHeight: '30px',
    whiteSpace: 'nowrap', textAlign: 'center', color: '#111',
  };

  return (
    <div style={{ position: 'absolute', left: 0, top: 0, width: 1299, height: 448, background: '#fff', overflow: 'hidden' }}>
      <canvas ref={mainRef} width={650} height={360} style={{ position: 'absolute', left: 0, top: 0, display: 'block' }} />
      <canvas ref={insetRef} width={295} height={120} style={{ position: 'absolute', left: 60, top: 195, display: 'block' }} />
      <canvas ref={errRef} width={649} height={360} style={{ position: 'absolute', left: 650, top: 0, display: 'block' }} />
      <div style={{ ...cap, left: 0, width: 792, top: 370 }}>(c) Comparison of SOC based on UPF with different</div>
      <div style={{ ...cap, left: 0, width: 792, top: 409 }}>particle numbers</div>
      <div style={{ ...cap, left: 751, width: 548, top: 369 }}>(d) Comparison of SOC error based on UPF with</div>
      <div style={{ ...cap, left: 751, width: 548, top: 396 }}>different particle numbers</div>
    </div>
  );
}
